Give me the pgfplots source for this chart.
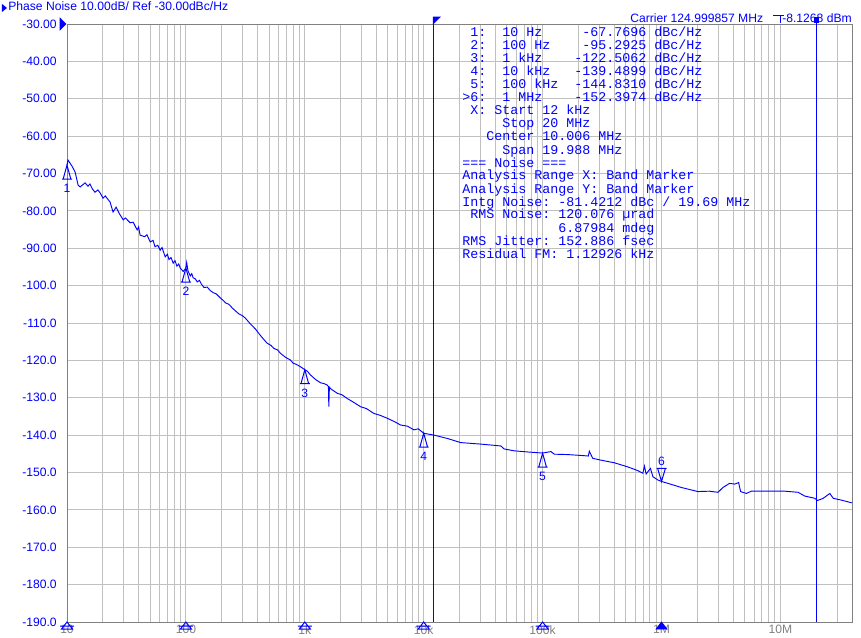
\documentclass[border=0pt]{standalone}
\usepackage{pgfplots}
\pgfplotsset{compat=1.18}
\usepackage{fontspec}
\setmainfont{Liberation Sans}
\newfontfamily\monofont{Liberation Mono}

\definecolor{rsblue}{RGB}{0,0,255}
\definecolor{gridgray}{RGB}{192,192,192}
\definecolor{framegray}{RGB}{128,128,128}
\definecolor{labgray}{RGB}{128,128,128}
\newcommand\uifont{\fontsize{9.1pt}{11pt}\selectfont}

% marker symbols (1px = 0.75pt)
\pgfdeclareplotmark{mkup}{%
  \pgfpathmoveto{\pgfqpoint{0pt}{0pt}}%
  \pgfpathlineto{\pgfqpoint{-2.9pt}{-10.5pt}}%
  \pgfpathlineto{\pgfqpoint{2.9pt}{-10.5pt}}%
  \pgfpathclose
  \pgfpathmoveto{\pgfqpoint{-3.75pt}{-10.5pt}}%
  \pgfpathlineto{\pgfqpoint{3.75pt}{-10.5pt}}%
  \pgfusepathqstroke}
\pgfdeclareplotmark{mkdown}{%
  \pgfpathmoveto{\pgfqpoint{0pt}{0pt}}%
  \pgfpathlineto{\pgfqpoint{-2.9pt}{9.75pt}}%
  \pgfpathlineto{\pgfqpoint{2.9pt}{9.75pt}}%
  \pgfpathclose
  \pgfpathmoveto{\pgfqpoint{-3.75pt}{9.75pt}}%
  \pgfpathlineto{\pgfqpoint{3.75pt}{9.75pt}}%
  \pgfusepathqstroke}
\pgfdeclareplotmark{axup}{%
  \pgfpathmoveto{\pgfqpoint{0pt}{0pt}}%
  \pgfpathlineto{\pgfqpoint{-4.1pt}{-5.25pt}}%
  \pgfpathlineto{\pgfqpoint{4.1pt}{-5.25pt}}%
  \pgfpathclose
  \pgfpathmoveto{\pgfqpoint{-5.25pt}{-3pt}}%
  \pgfpathlineto{\pgfqpoint{5.25pt}{-3pt}}%
  \pgfusepathqstroke}
\pgfdeclareplotmark{axupfill}{%
  \pgfpathmoveto{\pgfqpoint{0pt}{0pt}}%
  \pgfpathlineto{\pgfqpoint{-4.1pt}{-5.25pt}}%
  \pgfpathlineto{\pgfqpoint{4.1pt}{-5.25pt}}%
  \pgfpathclose
  \pgfusepathqfillstroke}
\pgfdeclareplotmark{flag}{%
  \pgfpathmoveto{\pgfqpoint{0pt}{0pt}}%
  \pgfpathlineto{\pgfqpoint{5.25pt}{0pt}}%
  \pgfpathlineto{\pgfqpoint{0pt}{-5.25pt}}%
  \pgfpathclose
  \pgfusepathqfillstroke}
\pgfdeclareplotmark{refarr}{%
  \pgfpathmoveto{\pgfqpoint{-5.25pt}{4.5pt}}%
  \pgfpathlineto{\pgfqpoint{-0.75pt}{0pt}}%
  \pgfpathlineto{\pgfqpoint{-5.25pt}{-4.5pt}}%
  \pgfpathclose
  \pgfusepathqfillstroke}

\begin{document}
\begin{tikzpicture}
\begin{axis}[
  name=pn, at={(0,0)}, anchor=south west,
  scale only axis, width=588.75pt, height=448.5pt,
  xmode=log, xmin=10, xmax=4e7, ymin=-190, ymax=-30,
  xtick={10,100,1000,10000,100000,1000000,10000000},
  xticklabels={10,100,1k,10k,100k,1M,10M},
  minor xtick={20,30,40,50,60,70,80,90,
    200,300,400,500,600,700,800,900,
    2000,3000,4000,5000,6000,7000,8000,9000,
    20000,30000,40000,50000,60000,70000,80000,90000,
    200000,300000,400000,500000,600000,700000,800000,900000,
    2000000,3000000,4000000,5000000,6000000,7000000,8000000,9000000,
    20000000,30000000},
  ytick={-190,-180,...,-30},
  yticklabels={-190.0,-180.0,-170.0,-160.0,-150.0,-140.0,-130.0,-120.0,-110.0,-100.0,
    -90.00,-80.00,-70.00,-60.00,-50.00,-40.00,-30.00},
  xticklabel style={font=\uifont, text=labgray, inner sep=0pt, yshift=-2.25pt},
  yticklabel style={font=\uifont, text=rsblue, inner sep=0pt, xshift=-7.5pt},
  major tick length=0pt, minor tick length=0pt,
  xmajorgrids, xminorgrids, ymajorgrids,
  grid style={gridgray, line width=0.75pt},
  minor grid style={gridgray, line width=0.75pt},
  axis line style={framegray, line width=0.75pt},
  clip=false,
]
% band markers 12 kHz .. 20 MHz
\addplot[rsblue, line width=0.75pt] coordinates {(12000,-190) (12000,-28.13)};
\addplot[rsblue, line width=0.75pt] coordinates {(20000000,-190) (20000000,-28.66)};
\addplot[rsblue, only marks, mark=flag, mark options={fill=rsblue, line width=0.4pt}] coordinates {(12000,-28.13)};
\addplot[rsblue, only marks, mark=square*, mark size=1.6pt] coordinates {(20000000,-28.9)};
% reference level arrow
\addplot[rsblue, only marks, mark=refarr, mark options={fill=rsblue, line width=0.4pt}] coordinates {(10,-30)};

% phase noise trace
\addplot[rsblue, line width=0.7pt] coordinates {
(10,-67.8) (10.2,-66.4) (11.0,-68.0) (11.7,-69.6) (12.4,-73.1) (12.9,-73.6)
(14.2,-72.5) (15.0,-73.4) (15.6,-72.8) (16.4,-74.2) (17.2,-75.0) (18.2,-74.4)
(19.0,-75.2) (20.1,-76.6) (21.0,-76.0) (21.7,-76.6) (23.0,-77.6) (24.4,-80.3)
(25.9,-79.0) (27.0,-80.2) (28.0,-81.1) (29.7,-82.4) (31.0,-81.9) (34.0,-83.2)
(36.0,-83.0) (38.9,-85.1) (40.0,-84.3) (41.2,-86.5) (45.0,-86.9) (47.0,-86.4)
(50.1,-88.3) (53.0,-87.9) (55.0,-89.6) (58.0,-89.2) (60.8,-90.5) (63.0,-89.8)
(67.0,-92.3) (70.0,-91.6) (72.0,-93.0) (75.0,-92.5) (78.2,-94.0) (81.0,-93.3)
(84.0,-94.8) (87.0,-94.2) (89.6,-95.3) (95.0,-96.2) (100,-95.3) (101.5,-93.8)
(104,-96.0) (108.8,-97.4) (112,-96.8) (115,-97.9) (120,-98.2) (124.6,-99.0)
(130,-98.6) (135,-99.6) (142,-100.5) (151.3,-100.4) (160,-101.3) (170,-101.9)
(180,-102.2) (194.7,-103.3) (205,-103.9) (215,-104.6) (230,-105.0) (245.7,-106.0)
(262,-106.8) (280,-107.6) (298,-108.0) (316.2,-108.7) (350,-110.3) (383.9,-111.6)
(430,-113.6) (481.7,-115.4) (520,-116.0) (550,-116.8) (590,-117.2) (623.6,-118.1)
(690,-119.2) (757.0,-119.9) (800,-120.8) (840,-121.0) (919.1,-121.7)
(1000,-122.5) (1050,-122.9) (1116,-123.9) (1230,-125.1) (1355,-126.0)
(1450,-126.2) (1543,-126.6) (1580,-127.0) (1592,-132.4) (1610,-127.2)
(1668,-127.7) (1874,-128.8) (2050,-129.2) (2275,-130.2) (2600,-131.3)
(2944,-132.4) (3300,-132.9) (3812,-134.2) (4300,-134.7) (4943,-135.5)
(5600,-136.3) (6401,-137.3) (7300,-137.6) (8284,-138.6) (9000,-138.3)
(10000,-139.5) (12210,-140.0) (15840,-140.9) (20500,-142.0) (30220,-142.4)
(44540,-142.9) (47480,-143.7) (57660,-144.2) (74740,-144.5) (90770,-144.7)
(100000,-144.8) (117500,-144.4) (125300,-145.1) (162500,-145.2) (224200,-145.5)
(242400,-145.6) (247100,-144.3) (263900,-146.2) (310000,-146.7) (401300,-147.4)
(520500,-148.5) (632000,-149.5) (696600,-150.2) (718600,-148.3) (742600,-150.4)
(807100,-148.9) (845600,-151.1) (931500,-152.0) (1000000,-152.4) (1131000,-152.9)
(1464000,-154.0) (2025000,-155.1) (2536000,-155.0) (2985000,-155.3)
(3289000,-154.0) (3738000,-152.9) (4119000,-153.1) (4451000,-152.7)
(4627000,-155.1) (5169000,-155.6) (5693000,-155.0) (7873000,-155.0)
(10870000,-155.0) (14090000,-155.3) (16020000,-156.3) (19450000,-156.9)
(20500000,-157.5) (22900000,-156.9) (26030000,-155.6) (27800000,-156.9)
(32660000,-157.4) (39650000,-158.1) (40000000,-158.1)
};

% markers 1..5 (triangle up, number below) and 6 (triangle down, number above)
\addplot[rsblue, only marks, mark=mkup, mark options={line width=0.75pt},
  nodes near coords, point meta=explicit symbolic,
  every node near coord/.append style={anchor=north, inner sep=0pt, yshift=-13.8pt,
    font=\uifont, text=rsblue}]
  coordinates {(10,-67.7696)[1] (100,-95.2925)[2] (1000,-122.5062)[3]
    (10000,-139.4899)[4] (100000,-144.8310)[5]};
\addplot[rsblue, only marks, mark=mkdown, mark options={line width=0.75pt},
  nodes near coords, point meta=explicit symbolic,
  every node near coord/.append style={anchor=south, inner sep=0pt, yshift=11.8pt,
    font=\uifont, text=rsblue}]
  coordinates {(1000000,-152.3974)[6]};
% marker positions on the frequency axis
\addplot[rsblue, only marks, mark=axup, mark options={line width=0.75pt}]
  coordinates {(10,-190) (100,-190) (1000,-190) (10000,-190) (100000,-190)};
\addplot[rsblue, only marks, mark=axupfill, mark options={fill=rsblue, line width=0.5pt}]
  coordinates {(1000000,-190)};
\end{axis}

% header texts
\fill[rsblue] (-48.75pt,463.5pt) -- (-45pt,460.5pt) -- (-48.75pt,457.5pt) -- cycle;
\node[anchor=base west, inner sep=0pt, font=\uifont, text=rsblue] at (-44.25pt,458.6pt)
  {Phase Noise 10.00dB/ Ref -30.00dBc/Hz};
\node[anchor=base west, inner sep=0pt, font=\uifont, text=rsblue] at (422.25pt,449.5pt)
  {Carrier 124.999857 MHz};
\node[anchor=base east, inner sep=0pt, font=\uifont, text=rsblue] at (588.75pt,449.5pt)
  {-8.1268 dBm};
\draw[rsblue, line width=0.75pt] (529.5pt,454.5pt) -- (537.75pt,454.5pt)
  (534.75pt,454.5pt) -- (534.75pt,449.25pt);

% marker table
\foreach \t [count=\i from 0] in {
  {~1:~~10~Hz~~~~~-67.7696~dBc/Hz},
  {~2:~~100~Hz~~~~-95.2925~dBc/Hz},
  {~3:~~1~kHz~~~~-122.5062~dBc/Hz},
  {~4:~~10~kHz~~~-139.4899~dBc/Hz},
  {~5:~~100~kHz~~-144.8310~dBc/Hz},
  {>6:~~1~MHz~~~~-152.3974~dBc/Hz},
  {~X:~Start~12~kHz},
  {~~~~~Stop~20~MHz},
  {~~~Center~10.006~MHz},
  {~~~~~Span~19.988~MHz},
  {===~Noise~===},
  {Analysis~Range~X:~Band~Marker},
  {Analysis~Range~Y:~Band~Marker},
  {Intg~Noise:~-81.4212~dBc~/~19.69~MHz},
  {~RMS~Noise:~120.076~µrad},
  {~~~~~~~~~~~~6.87984~mdeg},
  {RMS~Jitter:~152.886~fsec},
  {Residual~FM:~1.12926~kHz}}
  \node[anchor=base west, inner sep=0pt, text=rsblue,
    font=\monofont\fontsize{10pt}{10pt}\selectfont]
    at ({296.25pt},{438.75pt-\i*9.75pt}) {\t};

\pgfresetboundingbox
\path[use as bounding box] (-50.25pt,-11.25pt) rectangle (595.5pt,466.5pt);
\end{tikzpicture}
\end{document}
